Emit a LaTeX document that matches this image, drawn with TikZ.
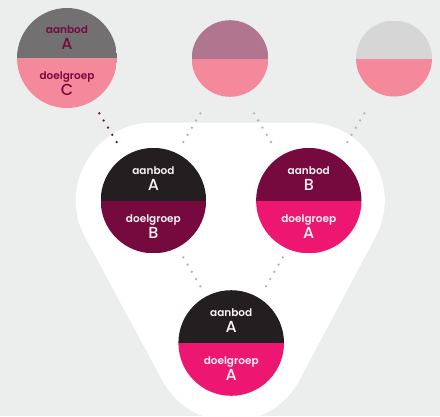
\documentclass[tikz,border=0pt]{standalone}
\usepackage{fontspec}
\setmainfont{Poppins}
\newfontfamily\popsemi{Poppins SemiBold}
\newfontfamily\popmed{Poppins Medium}
\usetikzlibrary{calc}
\definecolor{bg}{HTML}{ECEEED}
\definecolor{pinklight}{HTML}{F4899B}
\definecolor{greyA}{HTML}{727070}
\definecolor{mauve}{HTML}{B0768F}
\definecolor{greyL}{HTML}{D5D6D5}
\definecolor{ink}{HTML}{231F20}
\definecolor{wine}{HTML}{760A3F}
\definecolor{hotpink}{HTML}{ED1771}
\definecolor{dotgrey}{HTML}{B4B4B4}
\definecolor{txtwhite}{HTML}{F4F4F4}
\tikzset{
  disc/.style={circle, inner sep=0pt, minimum size=#1, draw=none},
  halves/.style 2 args={path picture={
     \fill[#1] (path picture bounding box.north west) rectangle (path picture bounding box.east);
     \fill[#2] (path picture bounding box.west) rectangle (path picture bounding box.south east);}},
  lab/.style={font=\fontsize{10.5}{12}\selectfont\popsemi, anchor=base, inner sep=0pt},
  bigletter/.style={font=\fontsize{16}{18}\selectfont\popmed, anchor=base, inner sep=0pt},
}
\newcommand{\dotrow}[3]{\foreach \k in {0,...,4} \fill[#1] ($(#2)!{\k/4}!(#3)$) circle (1.3);}
\begin{document}
\begin{tikzpicture}[x=1pt,y=-1pt]
\path[use as bounding box, fill=bg] (0,0) rectangle (440,416);
\clip (0,0) rectangle (440,416);
% white background shape
\draw[white, fill=white, line width=156pt, line join=round] (154,200.5) -- (306.5,200.5) -- (230.8,343) -- cycle;

% top row
\node[disc=100pt, halves={greyA}{pinklight}] (tl) at (67,58) {};
\node[disc=76.6pt, halves={mauve}{pinklight}] (tm) at (230,58.5) {};
\node[disc=76pt, halves={greyL}{pinklight}] (tr) at (394,58.5) {};
% middle row
\node[disc=105.4pt, halves={ink}{wine}] (ml) at (153.4,200.6) {};
\node[disc=105.4pt, halves={wine}{hotpink}] (mr) at (308.8,200.6) {};
% bottom
\node[disc=105.6pt, halves={ink}{hotpink}] (bm) at (231.2,343) {};

% labels
\node[lab, text=wine] (tl1) at ([yshift=24.8pt]tl.center) {aanbod};
\node[bigletter, text=wine] (tl2) at ([yshift=9pt]tl.center) {A};
\node[lab, text=wine] (tl3) at ([yshift=-21.3pt]tl.center) {doelgroep};
\node[bigletter, text=wine] (tl4) at ([yshift=-37pt]tl.center) {C};

\node[lab, text=txtwhite] (ml1) at ([yshift=26.5pt]ml.center) {aanbod};
\node[bigletter, text=txtwhite] (ml2) at ([yshift=10pt]ml.center) {A};
\node[lab, text=txtwhite] (ml3) at ([yshift=-21.6pt]ml.center) {doelgroep};
\node[bigletter, text=txtwhite] (ml4) at ([yshift=-37.6pt]ml.center) {B};

\node[lab, text=txtwhite] (mr1) at ([yshift=26.5pt]mr.center) {aanbod};
\node[bigletter, text=txtwhite] (mr2) at ([yshift=10pt]mr.center) {B};
\node[lab, text=txtwhite] (mr3) at ([yshift=-21.6pt]mr.center) {doelgroep};
\node[bigletter, text=txtwhite] (mr4) at ([yshift=-37.6pt]mr.center) {A};

\node[lab, text=txtwhite] (bm1) at ([yshift=26.3pt]bm.center) {aanbod};
\node[bigletter, text=txtwhite] (bm2) at ([yshift=10.3pt]bm.center) {A};
\node[lab, text=txtwhite] (bm3) at ([yshift=-21.3pt]bm.center) {doelgroep};
\node[bigletter, text=txtwhite] (bm4) at ([yshift=-37pt]bm.center) {A};

% dotted connectors
\coordinate (c1a) at (99.3,113.3);  \coordinate (c1b) at (116.7,142);
\coordinate (c2a) at (200.3,113.3); \coordinate (c2b) at (183.3,142);
\coordinate (c3a) at (254,113.3);   \coordinate (c3b) at (271,142);
\coordinate (c4a) at (364.3,113.3); \coordinate (c4b) at (347.3,142);
\coordinate (c5a) at (183.3,257.3); \coordinate (c5b) at (200.3,286.3);
\coordinate (c6a) at (282.7,257.3); \coordinate (c6b) at (266,286.3);
\dotrow{wine}{c1a}{c1b}
\dotrow{dotgrey}{c2a}{c2b}
\dotrow{dotgrey}{c3a}{c3b}
\dotrow{dotgrey}{c4a}{c4b}
\dotrow{dotgrey}{c5a}{c5b}
\dotrow{dotgrey}{c6a}{c6b}
\end{tikzpicture}
\end{document}
